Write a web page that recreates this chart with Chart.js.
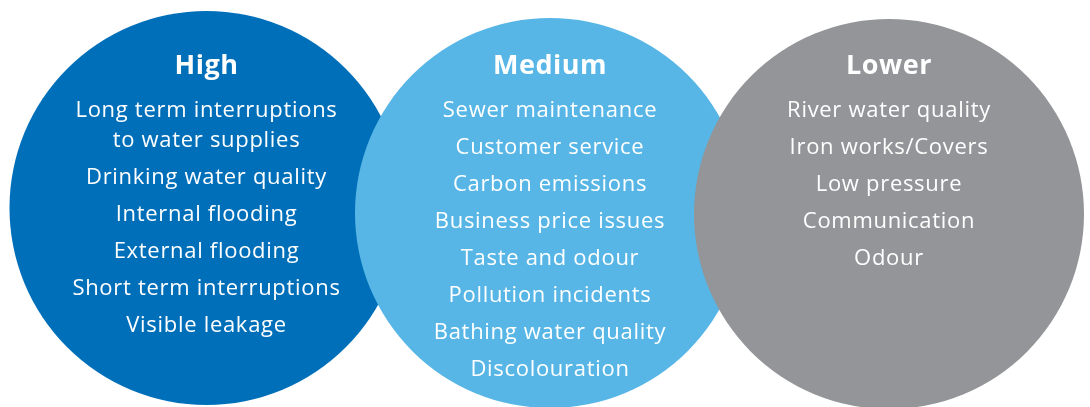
<!DOCTYPE html>
<html>
<head>
<meta charset="utf-8">
<script src="https://cdn.jsdelivr.net/npm/chart.js@4.4.0/dist/chart.umd.min.js"></script>
<style>
  html, body { margin: 0; padding: 0; background: #ffffff; }
  #wrap { width: 1090px; height: 407px; }
</style>
</head>
<body>
<div id="wrap"><canvas id="myChart" width="1090" height="407"></canvas></div>
<script>
// groups and their issues
var groups = ['High', 'Medium', 'Lower'];
var highItems = ['Long term interruptions|to water supplies', 'Drinking water quality', 'Internal flooding', 'External flooding', 'Short term interruptions', 'Visible leakage'];
var mediumItems = ['Sewer maintenance', 'Customer service', 'Carbon emissions', 'Business price issues', 'Taste and odour', 'Pollution incidents', 'Bathing water quality', 'Discolouration'];
var lowerItems = ['River water quality', 'Iron works/Covers', 'Low pressure', 'Communication', 'Odour'];

// circle centres (x, y on a 1090 x 407 grid) and radius
var circleX = [206.5, 550, 889];
var circleY = [208, 213, 214];
var circleR = [197, 195, 195];
var colors = ['#006fb9', '#57b6e6', '#939598'];

var allItems = [highItems, mediumItems, lowerItems];

var labelPlugin = {
    id: 'labels',
    afterDatasetsDraw: function(chart) {
        var c = chart.ctx;
        var xs = chart.scales.x;
        var ys = chart.scales.y;
        c.save();
        c.fillStyle = '#ffffff';
        c.textAlign = 'center';
        c.textBaseline = 'middle';
        for (var i = 0; i < groups.length; i++) {
            var cx = xs.getPixelForValue(circleX[i]);
            c.font = 'bold 27px "Open Sans", Lato, sans-serif';
            c.letterSpacing = '0.5px';
            c.fillText(groups[i], cx, ys.getPixelForValue(66));
            c.font = '22px "Open Sans", Lato, sans-serif';
            c.letterSpacing = '0.7px';
            var y = 111;
            allItems[i].forEach(function(item) {
                var parts = item.split('|');
                parts.forEach(function(p, k) {
                    c.fillText(p, cx, ys.getPixelForValue(y));
                    y += (k < parts.length - 1) ? 30 : 37;
                });
            });
        }
        c.restore();
    }
};

// draw order: gray, then light blue, then dark blue on top
var order = [2, 1, 0];
var ctx = document.getElementById('myChart').getContext('2d');
var myChart = new Chart(ctx, {
    type: 'bubble',
    data: {
        datasets: order.map(function(i) {
            return {
                label: groups[i],
                data: [{ x: circleX[i], y: circleY[i], r: circleR[i] }],
                backgroundColor: colors[i],
                borderWidth: 0,
                hoverRadius: 0,
                clip: false
            };
        })
    },
    options: {
        responsive: false,
        animation: false,
        layout: { padding: 0, autoPadding: false },
        plugins: {
            legend: { display: false },
            tooltip: { enabled: false }
        },
        scales: {
            x: { type: 'linear', min: 0, max: 1090, display: false },
            y: { type: 'linear', min: 0, max: 407, reverse: true, display: false }
        }
    },
    plugins: [labelPlugin]
});
</script>
</body>
</html>
